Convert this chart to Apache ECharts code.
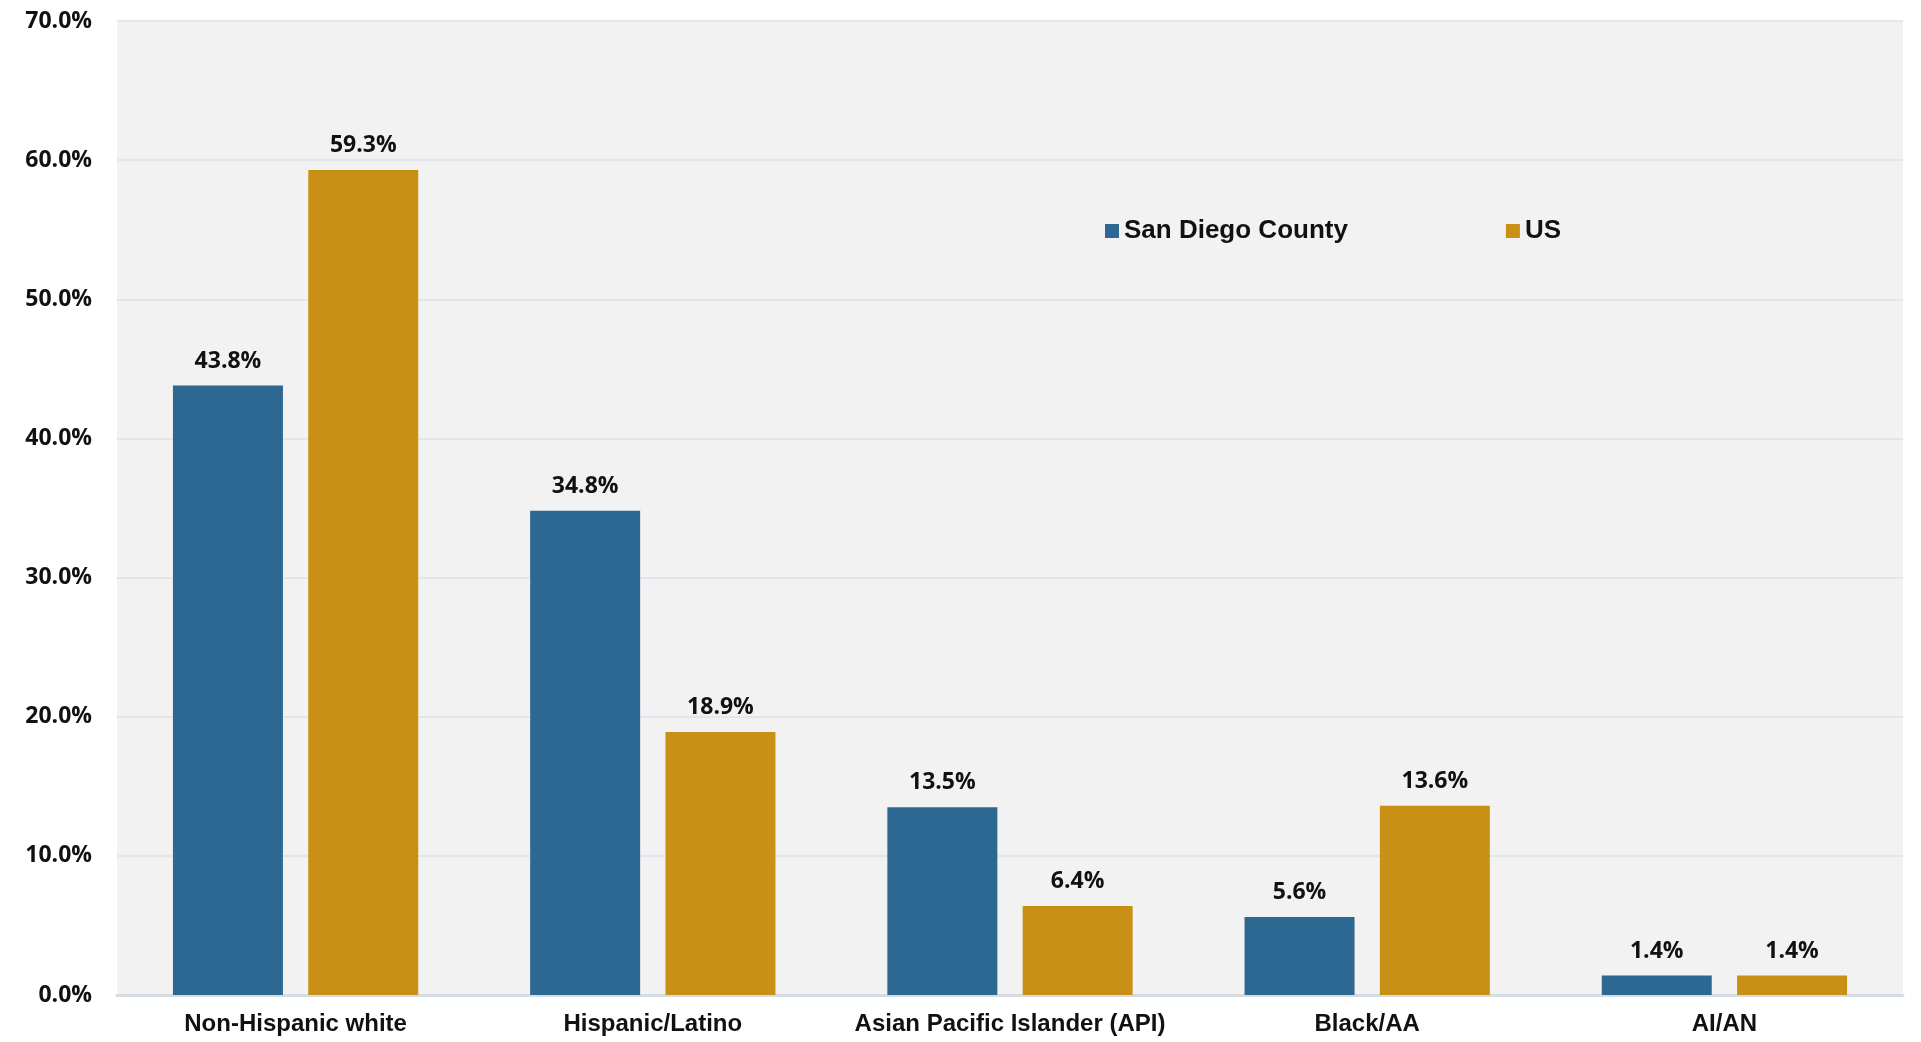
<!DOCTYPE html>
<html>
<head>
<meta charset="utf-8">
<script src="https://cdn.jsdelivr.net/npm/echarts@6/dist/echarts.min.js"></script>
<style>
  html, body { margin: 0; padding: 0; background: #ffffff; }
  #chart { width: 1921px; height: 1042px; }
</style>
</head>
<body>
<div id="chart"></div>
<script>
// Population share by race/ethnicity, San Diego County vs. US
const categories = ['Non-Hispanic white', 'Hispanic/Latino', 'Asian Pacific Islander (API)', 'Black/AA', 'AI/AN'];
const sanDiegoValues = [43.8, 34.8, 13.5, 5.6, 1.4];
const usValues = [59.3, 18.9, 6.4, 13.6, 1.4];
const seriesNames = ['San Diego County', 'US'];
const seriesColors = ['#2D6892', '#C89116'];
const yTicks = { min: 0, max: 70, interval: 10 };

const chart = echarts.init(document.getElementById('chart'), null, { renderer: 'canvas' });

const labelStyle = {
  show: true,
  position: 'top',
  distance: 13,
  fontFamily: 'Open Sans',
  fontWeight: 'bold',
  fontSize: 23,
  color: '#111111',
  formatter: p => p.value.toFixed(1) + '%'
};

chart.setOption({
  backgroundColor: '#ffffff',
  animation: false,
  grid: {
    left: 117, right: 18, top: 21, bottom: 47,
    show: true, backgroundColor: '#F2F2F2', borderWidth: 0
  },
  legend: {
    data: seriesNames,
    left: 1100,
    top: 213,
    icon: 'rect',
    itemWidth: 14,
    itemHeight: 14,
    itemGap: 158,
    textStyle: {
      fontFamily: 'Liberation Sans',
      fontWeight: 'bold',
      fontSize: 26,
      color: '#111111'
    }
  },
  xAxis: {
    type: 'category',
    data: categories,
    axisTick: { show: false },
    axisLine: { show: true, lineStyle: { color: '#D6DCE3', width: 3 } },
    axisLabel: {
      interval: 0,
      margin: 17,
      fontFamily: 'Liberation Sans',
      fontWeight: 'bold',
      fontSize: 24,
      color: '#111111'
    }
  },
  yAxis: {
    type: 'value',
    min: yTicks.min,
    max: yTicks.max,
    interval: yTicks.interval,
    axisLine: { show: false },
    axisTick: { show: false },
    splitLine: { show: true, lineStyle: { color: '#DDE2E8', width: 1.5 } },
    axisLabel: {
      margin: 25,
      fontFamily: 'Open Sans',
      fontWeight: 'bold',
      fontSize: 23,
      color: '#111111',
      formatter: v => v.toFixed(1) + '%'
    }
  },
  series: [
    {
      name: seriesNames[0],
      type: 'bar',
      data: sanDiegoValues,
      itemStyle: { color: seriesColors[0] },
      barWidth: 110,
      barGap: '23%',
      label: labelStyle
    },
    {
      name: seriesNames[1],
      type: 'bar',
      data: usValues,
      itemStyle: { color: seriesColors[1] },
      barWidth: 110,
      barGap: '23%',
      label: labelStyle
    }
  ]
});
</script>
</body>
</html>
